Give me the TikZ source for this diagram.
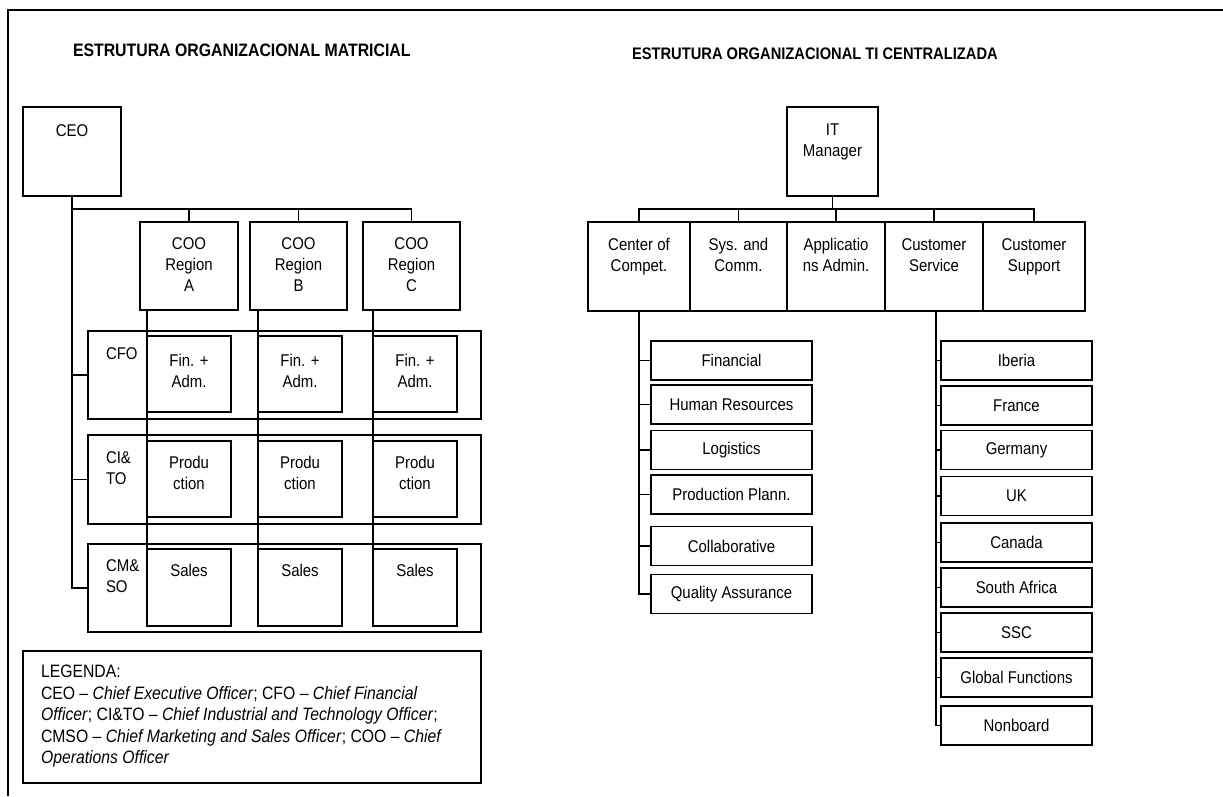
\documentclass[tikz,border=0pt]{standalone}
\usepackage{fontspec}
\setmainfont[FakeStretch=0.88]{Liberation Sans}
\begin{document}
\begin{tikzpicture}[x=1pt,y=-1pt,
  every node/.style={font=\fontsize{17}{21}\selectfont, inner sep=0pt, outer sep=0pt},
  box/.style={draw, line width=1.5pt, rectangle, inner sep=0pt},
  itembox/.style={box, line width=1.7pt, minimum width=#1, minimum height=39},
  txt/.style={anchor=base, align=center},
  ltxt/.style={anchor=base west, align=left},
  conn/.style={draw, line width=1.9pt},
  frame/.style={draw, line width=1.9pt},
  title/.style={anchor=base west}]

\useasboundingbox (0,0) rectangle (1223,796);

% page frame
\coordinate (frTL) at (8,10);
\coordinate (frTR) at (1223,10);
\coordinate (frBL) at (8,796);
\draw[frame] (frBL) -- (frTL) -- (frTR);

% ---------------- matrix organisation ----------------
% (multi-line labels are placed by the baseline of their last line)
\node[title, font=\fontsize{18}{21}\selectfont\bfseries] (t1) at (73,56) {ESTRUTURA ORGANIZACIONAL MATRICIAL};

\node[box, minimum width=98, minimum height=89] (ceo) at (72,151.5) {};
\node[txt] (ceoT) at (72,136.5) {CEO};

\node[box, minimum width=98, minimum height=88] (cooA) at (189,266) {};
\node[box, minimum width=97, minimum height=88] (cooB) at (298.5,266) {};
\node[box, minimum width=97, minimum height=88] (cooC) at (411.5,266) {};
\node[txt] (cooAT) at (189,291) {COO\\Region\\A};
\node[txt] (cooBT) at (298.5,291) {COO\\Region\\B};
\node[txt] (cooCT) at (411.5,291) {COO\\Region\\C};

% functional rows
\node[box, minimum width=393, minimum height=88] (rowF) at (284.5,375) {};
\node[box, minimum width=393, minimum height=89] (rowP) at (284.5,479.5) {};
\node[box, minimum width=393, minimum height=88] (rowS) at (284.5,588) {};
\node[ltxt] (rowFT) at (106,359.3) {CFO};
\node[ltxt] (rowPT) at (106,484) {CI\&\\TO};
\node[ltxt] (rowST) at (106,592) {CM\&\\SO};

% cells
\node[box, minimum width=84, minimum height=76] (finA) at (189,374) {};
\node[box, minimum width=84, minimum height=76] (finB) at (300,374) {};
\node[box, minimum width=84, minimum height=76] (finC) at (415,374) {};
\node[box, minimum width=84, minimum height=76] (prdA) at (189,479) {};
\node[box, minimum width=84, minimum height=76] (prdB) at (300,479) {};
\node[box, minimum width=84, minimum height=76] (prdC) at (415,479) {};
\node[box, minimum width=84, minimum height=77] (salA) at (189,587.5) {};
\node[box, minimum width=84, minimum height=77] (salB) at (300,587.5) {};
\node[box, minimum width=84, minimum height=77] (salC) at (415,587.5) {};
\node[txt] (finAT) at (189,387) {Fin. +\\Adm.};
\node[txt] (finBT) at (300,387) {Fin. +\\Adm.};
\node[txt] (finCT) at (415,387) {Fin. +\\Adm.};
\node[txt] (prdAT) at (189,489.3) {Produ\\ction};
\node[txt] (prdBT) at (300,489.3) {Produ\\ction};
\node[txt] (prdCT) at (415,489.3) {Produ\\ction};
\node[txt] (salAT) at (189,576) {Sales};
\node[txt] (salBT) at (300,576) {Sales};
\node[txt] (salCT) at (415,576) {Sales};

% reporting lines
\coordinate (busL) at (72,209);
\draw[conn] (ceo.south) -- (busL) -| (cooC.north);
\draw[conn] (cooA.north) -- (cooA.north |- busL);
\draw[conn] (cooB.north) -- (cooB.north |- busL);
\draw[conn] (busL) |- (rowS.west);
\draw[conn] (rowF.west) -- (rowF.west -| busL);
\draw[conn] (rowP.west) -- (rowP.west -| busL);
\draw[conn] (finA.west |- cooA.south) -- (finA.west |- rowS.west);
\draw[conn] (finB.west |- cooB.south) -- (finB.west |- rowS.west);
\draw[conn] (finC.west |- cooC.south) -- (finC.west |- rowS.west);

% legend
\node[box, minimum width=458, minimum height=132] (leg) at (252,717) {};
\node[anchor=base west, align=left, font=\fontsize{17.9}{21.5}\selectfont] (legT) at (41,763.7)
  {LEGENDA:\\
   CEO -- \textit{Chief Executive Officer}; CFO -- \textit{Chief Financial}\\
   \textit{Officer}; CI\&TO -- \textit{Chief Industrial and Technology Officer};\\
   CMSO -- \textit{Chief Marketing and Sales Officer}; COO -- \textit{Chief}\\
   \textit{Operations Officer}};

% ---------------- centralised IT ----------------
\node[title, font=\fontsize{16.7}{21}\selectfont\bfseries] (t2) at (632,59) {ESTRUTURA ORGANIZACIONAL TI CENTRALIZADA};

\node[box, minimum width=91, minimum height=89] (itm) at (832.5,151.5) {};
\node[txt] (itmT) at (832.5,156) {IT\\Manager};

\node[box, minimum width=102, minimum height=89] (cc) at (639,266.5) {};
\node[box, minimum width=97, minimum height=89] (sc) at (738.5,266.5) {};
\node[box, minimum width=98, minimum height=89] (aa) at (836,266.5) {};
\node[box, minimum width=98, minimum height=89] (cs) at (934,266.5) {};
\node[box, minimum width=102, minimum height=89] (cu) at (1034,266.5) {};
\node[txt] (ccT) at (639,271) {Center of\\Compet.};
\node[txt] (scT) at (738.5,271) {Sys. and\\Comm.};
\node[txt] (aaT) at (836,271) {Applicatio\\ns Admin.};
\node[txt] (csT) at (934,271) {Customer\\Service};
\node[txt] (cuT) at (1034,271) {Customer\\Support};

\coordinate (busR) at (832.5,209);
\draw[conn] (itm.south) -- (busR);
\draw[conn] (cc.north) |- (busR) -| (cu.north);
\draw[conn] (sc.north) -- (sc.north |- busR);
\draw[conn] (aa.north) -- (aa.north |- busR);
\draw[conn] (cs.north) -- (cs.north |- busR);

% centre of competence areas
\node[itembox=161] (fin) at (731.5,360.5) {Financial};
\node[itembox=161] (hr)  at (731.5,404.5) {Human Resources};
\node[itembox=161] (log) at (731.5,450) {Logistics};
\node[itembox=161] (pp)  at (731.5,494.5) {Production Plann.};
\node[itembox=161] (col) at (731.5,546) {Collaborative};
\node[itembox=161] (qa)  at (731.5,594) {Quality Assurance};
\draw[conn] (cc.south) |- (qa.west);
\foreach \n in {fin,hr,log,pp,col}
  \draw[conn] (\n.west) -- (\n.west -| cc.south);

% customer service regions
\node[itembox=151] (ibe) at (1016.5,360.5) {Iberia};
\node[itembox=151] (fra) at (1016.5,405.5) {France};
\node[itembox=151] (ger) at (1016.5,450) {Germany};
\node[itembox=151] (uk)  at (1016.5,496) {UK};
\node[itembox=151] (can) at (1016.5,542.5) {Canada};
\node[itembox=151] (saf) at (1016.5,587.5) {South Africa};
\node[itembox=151] (ssc) at (1016.5,632.5) {SSC};
\node[itembox=151] (glo) at (1016.5,677.5) {Global Functions};
\node[itembox=151] (nob) at (1016.5,725.5) {Nonboard};
\coordinate (csTrunk) at (936,311);
\draw[conn] (cs.south) -- (csTrunk |- cs.south) |- (nob.west);
\foreach \n in {ibe,fra,ger,uk,can,saf,ssc,glo}
  \draw[conn] (\n.west) -- (\n.west -| csTrunk);

\end{tikzpicture}
\end{document}
